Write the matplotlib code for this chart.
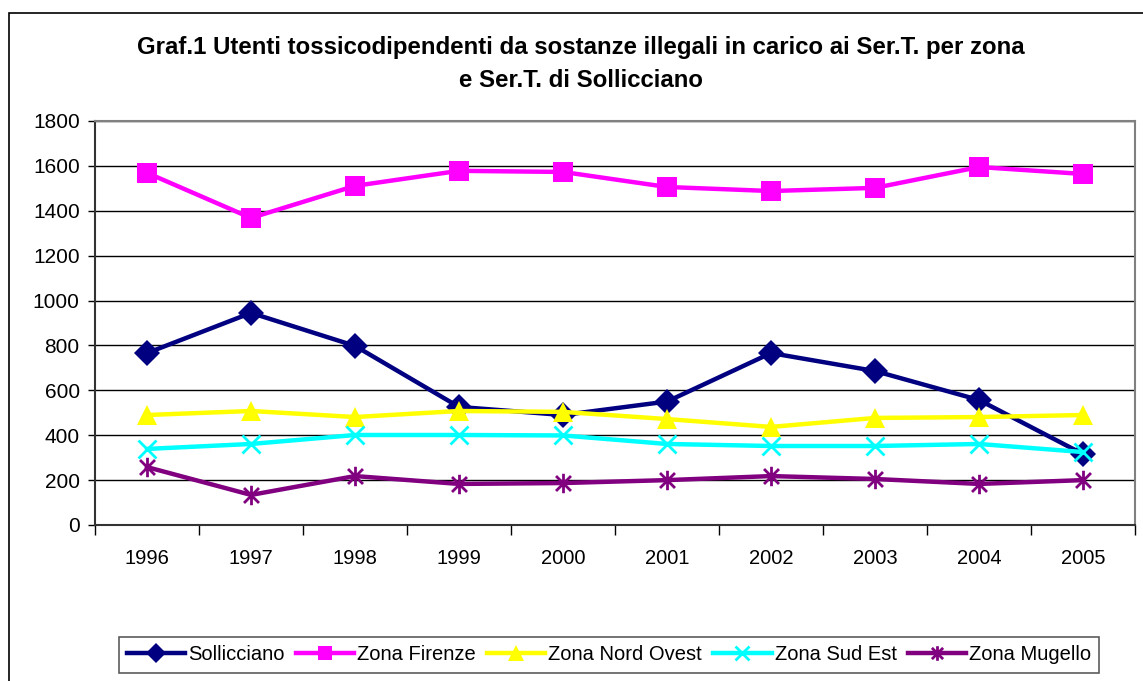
import matplotlib
matplotlib.use("Agg")
import matplotlib.pyplot as plt
from matplotlib.path import Path
from matplotlib.patches import Rectangle
import numpy as np

plt.rcParams['font.family'] = ['Liberation Sans', 'DejaVu Sans']

years = ['1996', '1997', '1998', '1999', '2000', '2001', '2002', '2003', '2004', '2005']
sollicciano = [766, 945, 798, 526, 490, 550, 766, 686, 557, 316]
firenze = [1569, 1368, 1511, 1578, 1573, 1506, 1488, 1502, 1595, 1564]
nord_ovest = [490, 508, 481, 508, 504, 472, 437, 477, 481, 490]
sud_est = [339, 361, 401, 401, 399, 361, 352, 352, 361, 325]
mugello = [258, 134, 218, 183, 187, 200, 218, 205, 183, 200]

title = "Graf.1 Utenti tossicodipendenti da sostanze illegali in carico ai Ser.T. per zona\ne Ser.T. di Sollicciano"

# excel style asterisk: x plus vertical bar
star = Path([(-1, -1), (1, 1), (-1, 1), (1, -1), (0, -1.3), (0, 1.3)],
            [Path.MOVETO, Path.LINETO, Path.MOVETO, Path.LINETO, Path.MOVETO, Path.LINETO])

series = [
    ("Sollicciano", sollicciano, '#000080', 'D', 13, 0),
    ("Zona Firenze", firenze, '#FF00FF', 's', 14, 0),
    ("Zona Nord Ovest", nord_ovest, '#FFFF00', '^', 15, 0),
    ("Zona Sud Est", sud_est, '#00FFFF', 'x', 13, 2),
    ("Zona Mugello", mugello, '#800080', star, 14, 2),
]

fig = plt.figure(figsize=(11.43, 6.81), dpi=100)
W, H = 1143, 681
ax = fig.add_axes([95 / W, 1 - 525 / H, (1135 - 95) / W, (525 - 121) / H])

x = np.arange(len(years))
for name, vals, col, mk, ms, mew in series:
    ax.plot(x, vals, color=col, linewidth=3.2, marker=mk, markersize=ms,
            markerfacecolor=col, markeredgecolor=col, markeredgewidth=mew, label=name)

ax.set_xlim(-0.5, len(years) - 0.5)
ax.set_ylim(0, 1800)
ax.set_yticks(range(0, 1801, 200))
ax.tick_params(axis='y', labelsize=15, length=5, width=1, direction='out', pad=6)
ax.yaxis.grid(True, color='black', linewidth=1)
ax.set_axisbelow(True)

ax.set_xticks(x)
ax.set_xticklabels(years, fontsize=14.5)
ax.set_xticks(np.arange(-0.5, len(years), 1), minor=True)
ax.tick_params(axis='x', which='major', length=0, pad=17)
ax.tick_params(axis='x', which='minor', length=7, width=1, direction='out')

for s in ['left', 'bottom']:
    ax.spines[s].set_color('#333333')
    ax.spines[s].set_linewidth(1.5)
for s in ['top', 'right']:
    ax.spines[s].set_color('#808080')
    ax.spines[s].set_linewidth(1.5)

fig.text(0.508, 1 - 64 / H, title, ha='center', va='center', fontsize=17.3,
         fontweight='bold', linespacing=1.55)

leg = fig.legend(loc='center', bbox_to_anchor=(609 / W, 1 - 655 / H), ncol=5,
                 fontsize=14.5, frameon=True, fancybox=False, handlelength=2.9,
                 handletextpad=0.15, columnspacing=0.55, borderpad=0.4,
                 borderaxespad=0, markerscale=0.75)
leg.get_frame().set_edgecolor('#333333')
leg.get_frame().set_linewidth(1.2)

fig.patches.append(Rectangle((9 / W, -0.1), 1.2, 1 - 13 / H + 0.1, transform=fig.transFigure,
                             fill=False, edgecolor='black', linewidth=1.2))

fig.savefig('out.png', dpi=100)
